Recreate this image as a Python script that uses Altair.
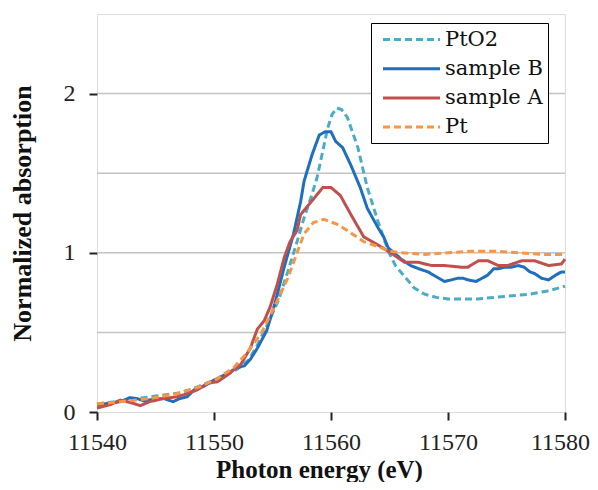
import altair as alt
import pandas as pd

series_order = ["PtO2", "sample B", "sample A", "Pt"]
series_colors = ["#4BACC6", "#1F6FBF", "#C0504D", "#F79646"]
series_dash = [[7, 4], [1, 0], [1, 0], [7, 4]]

pto2_e = [11540, 11541, 11542, 11543, 11544, 11545, 11546, 11547, 11548, 11549, 11550, 11551, 11552, 11553,
          11553.7, 11554.5, 11555.5, 11556.3, 11557.1, 11557.7, 11558.3, 11558.8, 11559.3, 11559.7, 11560.1,
          11560.5, 11560.9, 11561.4, 11562.3, 11563.1, 11564.0, 11564.9, 11565.5, 11566.3, 11567.1, 11568,
          11569, 11570, 11571, 11572.5, 11574, 11575.5, 11577, 11578.5, 11580]
pto2_v = [0.05, 0.06, 0.07, 0.08, 0.09, 0.10, 0.11, 0.12, 0.14, 0.17, 0.20, 0.23, 0.27, 0.33,
          0.42, 0.54, 0.70, 0.88, 1.07, 1.22, 1.35, 1.47, 1.64, 1.78, 1.87,
          1.91, 1.90, 1.85, 1.66, 1.41, 1.20, 1.01, 0.92, 0.85, 0.78, 0.74,
          0.72, 0.71, 0.71, 0.71, 0.72, 0.73, 0.74, 0.76, 0.79]

sample_b_e = [11540, 11541, 11542, 11542.8, 11543.4, 11544, 11544.9, 11545.7, 11546.5, 11547.1, 11547.7,
              11548.3, 11549.1, 11550, 11551.1, 11552, 11552.6, 11553.1, 11553.7, 11554.5, 11555.2, 11556,
              11556.8, 11557.4, 11557.7, 11558.4, 11559, 11559.5, 11560, 11560.4, 11561, 11561.7, 11562.5,
              11563.1, 11564, 11564.5, 11564.9, 11565.4, 11566, 11566.8, 11567.5, 11568.3, 11569, 11569.7,
              11570.3, 11570.8, 11571.3, 11571.7, 11572.4, 11572.9, 11573.4, 11573.9, 11574.3, 11574.9,
              11575.4, 11576, 11576.5, 11577, 11577.4, 11578, 11578.6, 11579.2, 11579.7, 11580]
sample_b_v = [0.045, 0.055, 0.065, 0.09, 0.085, 0.07, 0.08, 0.085, 0.065, 0.085, 0.095,
              0.14, 0.16, 0.20, 0.24, 0.28, 0.29, 0.33, 0.40, 0.51, 0.68, 0.91,
              1.12, 1.32, 1.45, 1.62, 1.74, 1.76, 1.76, 1.70, 1.66, 1.55, 1.41,
              1.28, 1.16, 1.10, 1.03, 1.00, 0.96, 0.92, 0.90, 0.88, 0.85, 0.82,
              0.83, 0.84, 0.84, 0.83, 0.82, 0.84, 0.86, 0.90, 0.90, 0.91,
              0.91, 0.92, 0.91, 0.88, 0.87, 0.84, 0.83, 0.86, 0.88, 0.88]

sample_a_e = [11540, 11541.1, 11542, 11542.85, 11543.7, 11544.5, 11545.7, 11546.8, 11547.7, 11548.6, 11549.4,
              11550.3, 11551.1, 11552.3, 11553.1, 11553.7, 11554.3, 11554.8, 11555.4, 11556, 11556.5, 11557.1,
              11557.4, 11558.3, 11559.3, 11560, 11560.8, 11561.7, 11562.8, 11564, 11565.1, 11566.3, 11567.5,
              11568.6, 11569.7, 11571.1, 11571.7, 11572.6, 11573.4, 11574.3, 11575.1, 11576.3, 11577.4,
              11578.6, 11579.7, 11580]
sample_a_v = [0.025, 0.045, 0.075, 0.06, 0.04, 0.065, 0.085, 0.095, 0.115, 0.14, 0.18,
              0.19, 0.23, 0.30, 0.40, 0.52, 0.575, 0.66, 0.80, 0.97, 1.07, 1.14,
              1.24, 1.32, 1.41, 1.41, 1.36, 1.24, 1.10, 1.05, 1.00, 0.94, 0.94,
              0.92, 0.92, 0.91, 0.91, 0.95, 0.95, 0.92, 0.92, 0.95, 0.95,
              0.92, 0.93, 0.96]

pt_e = [11540, 11542, 11544.6, 11546.8, 11548.8, 11550.3, 11551.7, 11552.8, 11554, 11555.1,
        11556.3, 11557.1, 11557.7, 11558.5, 11559.4, 11560.5, 11561.4, 11562, 11562.8, 11564,
        11565, 11566, 11568, 11570, 11572, 11574, 11576, 11578, 11580]
pt_v = [0.05, 0.065, 0.085, 0.115, 0.16, 0.21, 0.28, 0.37, 0.49, 0.65,
        0.84, 1.0, 1.12, 1.19, 1.21, 1.18, 1.14, 1.11, 1.07, 1.04,
        1.01, 1.0, 0.99, 1.0, 1.01, 1.01, 1.0, 0.99, 0.99]

grid_values = [0.5, 1.0, 1.5, 2.0]
x_ticks = [11540, 11550, 11560, 11570, 11580]
y_ticks = [0, 1, 2]

rows = []
for name, es, vs in [("PtO2", pto2_e, pto2_v), ("sample B", sample_b_e, sample_b_v),
                     ("sample A", sample_a_e, sample_a_v), ("Pt", pt_e, pt_v)]:
    for i, (e, v) in enumerate(zip(es, vs)):
        rows.append({"series": name, "energy": e, "value": v, "idx": i})
df = pd.DataFrame(rows)
grid_df = pd.DataFrame({"g": grid_values})

LABEL_FONT = "Liberation Serif"
TITLE_FONT = "Liberation Serif"
LEGEND_FONT = "DejaVu Serif"

x_scale = alt.Scale(domain=[11540, 11580], nice=False, zero=False)
y_scale = alt.Scale(domain=[0, 2.5], nice=False)

y_axis = alt.Axis(values=y_ticks, title="Normalized absorption", grid=False,
                  tickSize=8, tickWidth=2, tickColor="#222222", domain=False,
                  labelFont=LABEL_FONT, labelFontSize=24, labelColor="#222222", labelPadding=14,
                  titleFont=TITLE_FONT, titleFontSize=26, titleFontWeight="bold", titleColor="#111111",
                  titleBaseline="alphabetic", titleX=-67)
x_axis = alt.Axis(values=x_ticks, title="Photon energy (eV)", grid=False, format="d",
                  tickSize=8, tickWidth=2, tickColor="#222222", domain=False, labelFlush=False,
                  labelOffset=alt.condition("datum.value == 11580", alt.value(-5), alt.value(0)),
                  labelFont=LABEL_FONT, labelFontSize=24, labelColor="#222222", labelPadding=10,
                  titleFont=TITLE_FONT, titleFontSize=25, titleFontWeight="bold", titleColor="#111111",
                  titleBaseline="alphabetic", titleX=222, titleY=65)

legend = alt.Legend(title=None, orient="none", legendX=274, legendY=9,
                    symbolType="M-2.85,0L2.85,0", symbolSize=400, symbolStrokeWidth=3,
                    symbolOffset=24, labelOffset=22,
                    labelFont=LEGEND_FONT, labelFontSize=21, labelColor="#111111",
                    labelExpr="datum.label + '\u00a0\u00a0\u00a0'",
                    strokeColor="black", fillColor="white", padding=5, rowPadding=7.2)

grid = alt.Chart(grid_df).mark_rule(color="#C4C4C4", strokeWidth=1.5).encode(
    y=alt.Y("g:Q", scale=y_scale, axis=y_axis)
)

lines = alt.Chart(df).mark_line(strokeWidth=3).encode(
    x=alt.X("energy:Q", scale=x_scale, axis=x_axis),
    y=alt.Y("value:Q", scale=y_scale, axis=y_axis),
    color=alt.Color("series:N", scale=alt.Scale(domain=series_order, range=series_colors), legend=legend),
    strokeDash=alt.StrokeDash("series:N", scale=alt.Scale(domain=series_order, range=series_dash),
                              legend=legend),
    order="idx:Q",
)

chart = alt.layer(grid, lines).properties(
    width=468, height=398,
    autosize=alt.AutoSizeParams(type="none"),
    padding={"left": 89, "top": 6, "right": 25, "bottom": 70},
).configure_view(stroke="black", strokeWidth=2).configure(background="white")

chart.save("out.html", embed_options={"renderer": "svg", "actions": False})
